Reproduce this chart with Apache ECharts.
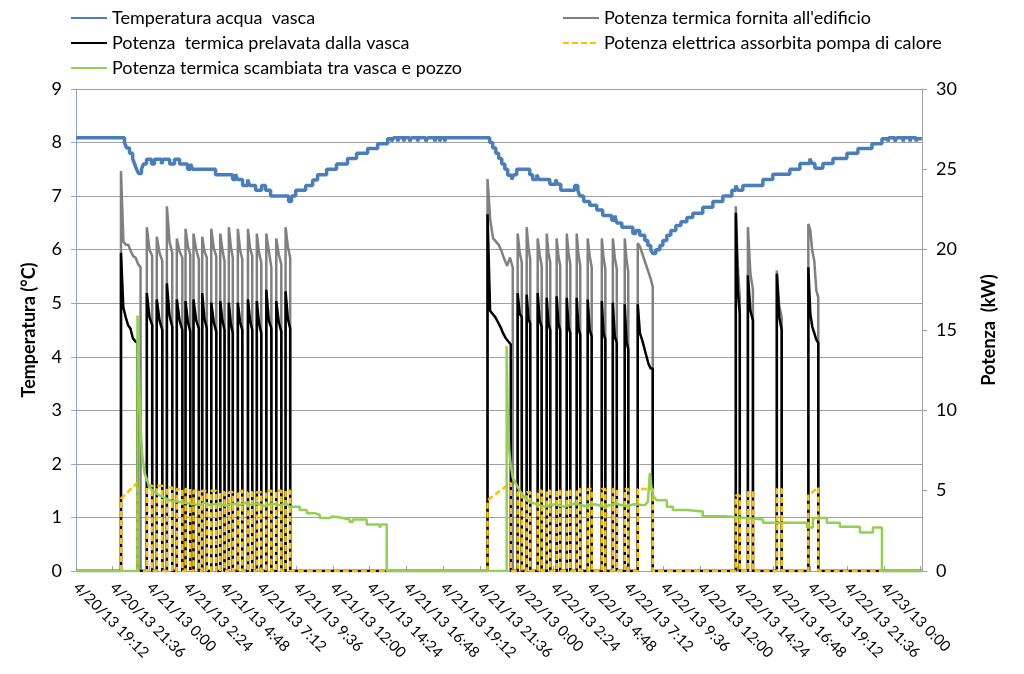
<!DOCTYPE html>
<html><head><meta charset="utf-8">
<script src="https://cdn.jsdelivr.net/npm/echarts/dist/echarts.min.js"></script>
<style>html,body{margin:0;padding:0;background:#fff}#c{width:1024px;height:674px}</style>
</head><body><div id="c"></div>
<script>
// x values are hours since 4/20/13 19:12
const xTickLabels = ['4/20/13 19:12','4/20/13 21:36','4/21/13 0:00','4/21/13 2:24','4/21/13 4:48','4/21/13 7:12','4/21/13 9:36','4/21/13 12:00','4/21/13 14:24','4/21/13 16:48','4/21/13 19:12','4/21/13 21:36','4/22/13 0:00','4/22/13 2:24','4/22/13 4:48','4/22/13 7:12','4/22/13 9:36','4/22/13 12:00','4/22/13 14:24','4/22/13 16:48','4/22/13 19:12','4/22/13 21:36','4/23/13 0:00'];
const xStepHours = 2.4;
const xEndHours = 55.3;

const seriesNames = ['Temperatura acqua  vasca', "Potenza termica fornita all'edificio", 'Potenza  termica prelavata dalla vasca', 'Potenza elettrica assorbita pompa di calore', 'Potenza termica scambiata tra vasca e pozzo'];

// Water temperature (°C): [hour, value] change points (held until next point)
const tempSteps = [[0,8.09],[3.17,8.0],[3.30,7.9],[3.50,7.8],[3.70,7.7],[3.83,7.6],[3.96,7.5],[4.09,7.42],[4.28,7.5],[4.41,7.6],[4.61,7.69],[4.94,7.6],[5.13,7.69],[5.59,7.6],[5.72,7.69],[6.12,7.6],[6.44,7.69],[6.77,7.6],[7.29,7.5],[7.49,7.6],[7.62,7.5],[9.12,7.4],[10.24,7.31],[10.43,7.41],[10.56,7.31],[10.89,7.2],[11.22,7.31],[11.35,7.2],[11.74,7.11],[12.13,7.2],[12.39,7.11],[12.72,7.0],[13.90,6.9],[14.09,7.0],[14.36,7.11],[15.01,7.2],[15.47,7.3],[15.79,7.4],[16.38,7.5],[17.03,7.6],[17.75,7.7],[18.34,7.8],[19.06,7.89],[19.72,7.98],[20.37,8.07],[20.63,8.02],[20.76,8.09],[21.03,8.02],[21.09,8.09],[21.42,8.02],[21.48,8.09],[21.81,8.02],[21.94,8.09],[22.33,8.02],[22.40,8.09],[22.86,8.02],[22.99,8.09],[23.45,8.02],[23.51,8.09],[23.77,8.02],[23.84,8.09],[24.10,8.02],[24.17,8.09],[27.04,8.0],[27.24,7.9],[27.44,7.8],[27.63,7.7],[27.83,7.6],[28.03,7.5],[28.22,7.39],[28.48,7.31],[28.61,7.4],[28.81,7.5],[29.66,7.4],[29.85,7.31],[30.12,7.4],[30.25,7.31],[30.97,7.22],[31.36,7.31],[31.49,7.22],[31.69,7.11],[32.60,7.2],[32.80,7.11],[32.93,7.0],[33.19,6.9],[33.58,6.83],[34.04,6.74],[34.43,6.64],[35.02,6.55],[35.22,6.64],[35.35,6.5],[35.68,6.42],[36.40,6.3],[36.59,6.36],[36.85,6.27],[37.18,6.17],[37.38,6.08],[37.57,6.0],[37.70,5.93],[37.90,6.0],[38.16,6.08],[38.36,6.17],[38.62,6.27],[38.88,6.36],[39.21,6.45],[39.54,6.52],[39.93,6.6],[40.32,6.68],[40.97,6.79],[41.63,6.9],[42.28,7.0],[42.87,7.11],[43.13,7.2],[43.26,7.11],[43.59,7.2],[44.90,7.31],[45.55,7.41],[46.66,7.5],[47.32,7.61],[47.97,7.7],[48.10,7.61],[48.30,7.52],[48.82,7.61],[49.48,7.7],[50.39,7.8],[51.11,7.89],[52.03,7.98],[52.68,8.07],[53.07,8.02],[53.14,8.09],[53.53,8.02],[53.66,8.09],[54.06,8.02],[54.12,8.09],[54.51,8.02],[54.58,8.09],[54.91,8.02],[54.97,8.07],[55.29,8.07]];

// Heat pump on/off cycles (hours)
const cycleOn  = [2.94,4.63,5.28,5.94,6.59,7.16,7.68,8.25,8.84,9.43,9.99,10.58,11.24,11.82,12.44,13.09,13.70,26.90,28.87,29.46,30.18,30.77,31.42,32.08,32.73,33.45,34.37,35.09,35.87,36.72,43.13,43.92,45.81,47.87];
const cycleOff = [4.02,4.98,5.64,6.29,6.95,7.47,8.03,8.55,9.17,9.71,10.25,10.87,11.52,12.11,12.77,13.42,14.00,28.42,29.14,29.69,30.44,31.00,31.65,32.31,32.96,33.71,34.60,35.35,36.10,37.70,43.39,44.25,46.13,48.52];
const grayOff  = [4.22,4.98,5.64,6.29,6.95,7.47,8.03,8.55,9.17,9.71,10.25,10.87,11.52,12.11,12.77,13.42,14.00,28.55,29.14,29.69,30.44,31.00,31.65,32.31,32.96,33.71,34.60,35.35,36.10,37.70,43.39,44.25,46.13,48.52];

// Thermal power to building (kW), readings spread over each cycle
const grayValues = [[24.9,20.5,20.3,20.3,19.9,19.6,19.5,19.1,18.9],[21.4,20.0,19.6],[20.8,19.8,19.3],[22.7,20.5,19.8],[20.7,19.9,19.5],[21.3,20.2,19.7],[21.0,20.0,19.4],[20.8,19.9,19.5],[21.3,20.1,19.6],[21.0,20.0,19.3],[21.4,20.2,19.5],[21.3,20.0,19.4],[21.3,20.1,19.6],[21.0,19.8,19.2],[21.0,19.9,18.9],[20.7,19.7,19.1],[21.4,20.2,19.5],[24.4,21.8,20.7,20.5,20.3,19.9,19.4,19.0,19.5,18.9],[21.0,19.8,19.2],[21.4,20.1,19.4],[20.7,19.7,19.0],[21.0,19.8,19.2],[20.7,19.6,19.0],[21.0,19.8,19.1],[21.0,19.7,19.0],[20.7,19.6,18.9],[20.7,19.5,18.8],[20.7,19.5,18.8],[20.7,19.4,18.6],[20.4,20.2,19.8,19.4,19.0,18.6,18.2,17.7],[22.7,19.0,17.0],[21.4,18.5,17.5],[18.7,16.5,15.8],[21.6,21.2,19.9,19.3,17.5,17.0]];

// Thermal power taken from the tank (kW)
const blackValues = [[19.8,16.4,15.8,15.3,15.1,14.5,14.3,14.2],[17.3,15.8,15.3],[16.9,15.6,15.0],[17.9,15.9,15.2],[16.9,15.6,15.0],[16.8,15.5,14.9],[16.9,15.6,15.1],[17.3,15.7,15.1],[16.7,15.5,14.9],[16.8,15.6,15.0],[16.7,15.4,14.8],[16.7,15.5,15.0],[16.9,15.6,15.0],[16.8,15.4,14.8],[17.5,15.6,15.1],[16.8,15.5,14.9],[17.4,15.7,15.1],[22.2,16.2,16.0,15.8,15.5,15.2,14.8,14.5,14.3,14.1],[17.3,16.0,15.8],[17.2,15.7,15.4],[17.3,15.6,15.2],[17.0,15.4,15.0],[17.1,15.4,15.0],[17.0,15.2,14.8],[17.0,15.1,14.7],[16.9,15.0,14.6],[16.8,14.8,14.4],[16.7,14.6,14.2],[16.6,14.3,13.8],[16.6,14.8,14.4,13.9,13.4,12.9,12.6,12.6],[22.3,17.5,16.0],[18.4,16.2,15.6],[18.5,15.8,15.0],[18.9,16.0,15.2,14.8,14.4,14.2]];

// Electric power of heat pump (kW): level at start and end of each cycle
const elecStart = [4.5,5.3,5.3,5.2,5.1,5.1,5.0,5.0,5.0,4.9,4.9,5.0,4.9,4.9,5.0,5.0,5.0,4.4,4.9,4.9,5.0,5.0,5.0,5.0,5.1,5.1,5.1,5.1,5.1,5.1,4.7,4.9,5.1,4.7];
const elecEnd   = [5.5,5.3,5.3,5.2,5.1,5.1,5.0,5.0,5.0,4.9,4.9,5.0,4.9,4.9,5.0,5.0,5.0,5.5,4.9,4.9,5.0,5.0,5.0,5.0,5.1,5.1,5.1,5.1,5.1,5.1,4.7,4.9,5.1,5.2];

// Heat exchanged between tank and well (kW): [hour, value]
const wellPower = [[0,0],[4.02,0],[4.02,15.9],[4.12,12.0],[4.22,9.0],[4.32,7.3],[4.48,6.1],[4.81,5.2],[5.13,4.9],[5.46,4.7],[6.12,4.4],[6.77,4.3],[7.42,4.2],[8.08,4.1],[8.40,4.25],[8.73,4.1],[9.38,4.2],[9.78,4.05],[10.17,4.2],[10.69,4.1],[11.09,4.25],[11.48,4.1],[11.87,4.2],[12.33,4.05],[12.79,4.2],[13.31,4.1],[13.77,4.2],[13.96,4.0],[14.62,4.0],[14.62,3.8],[15.08,3.8],[15.08,3.6],[15.60,3.6],[15.60,3.5],[15.93,3.5],[15.93,3.3],[16.58,3.3],[16.58,3.4],[16.78,3.4],[16.78,3.3],[17.43,3.3],[17.43,3.2],[17.89,3.2],[17.89,3.05],[18.09,3.05],[18.09,3.2],[19.0,3.2],[19.0,2.9],[19.85,2.9],[19.85,2.7],[19.98,2.7],[19.98,2.9],[20.31,2.9],[20.31,0],[28.15,0],[28.15,14.0],[28.22,10.0],[28.32,7.5],[28.42,6.6],[28.55,5.8],[29.0,5.0],[29.46,4.4],[30.12,4.15],[30.64,4.0],[31.29,4.15],[31.95,4.0],[32.60,4.2],[33.26,4.05],[33.91,4.15],[34.56,4.0],[35.22,4.2],[35.87,4.05],[36.53,4.15],[37.18,4.1],[37.38,4.3],[37.51,6.1],[37.64,5.0],[37.77,4.6],[37.97,4.4],[38.62,4.4],[38.62,4.0],[39.01,4.0],[39.01,3.8],[39.93,3.8],[39.93,3.7],[40.97,3.7],[40.97,3.4],[42.54,3.4],[42.54,3.3],[43.85,3.3],[43.85,3.2],[44.90,3.2],[44.90,3.0],[47.78,3.0],[47.78,2.7],[48.17,2.7],[48.17,3.3],[49.08,3.3],[49.08,3.0],[49.93,3.0],[49.93,2.75],[51.24,2.75],[51.24,2.4],[52.09,2.4],[52.09,2.7],[52.68,2.7],[52.68,0],[55.3,0]];

function pulses(on, off, vals) {
  const pts = [[0, 0]];
  for (let i = 0; i < on.length; i++) {
    const v = vals[i], n = v.length;
    pts.push([on[i], 0]);
    for (let j = 0; j < n; j++) pts.push([on[i] + (off[i] - on[i]) * j / (n - 1), v[j]]);
    pts.push([off[i], 0]);
  }
  pts.push([xEndHours, 0]);
  return pts;
}
const elecValues = elecStart.map((s, i) => [s, elecEnd[i]]);

const FONT = 'Lato';
const chart = echarts.init(document.getElementById('c'), null, {renderer: 'canvas'});
const colors = ['#4a7ebb', '#808080', '#000000', '#ffc000', '#92d050'];
function legendAt(name, left, top) {
  return {data: [name], left: left, top: top, padding: 0, itemWidth: 36, itemHeight: 14, itemGap: 5,
    itemStyle: {opacity: 0},
    textStyle: {fontFamily: FONT, fontSize: 18, color: '#000'}, selectedMode: false};
}
chart.setOption({
  animation: false,
  backgroundColor: '#fff',
  color: colors,
  textStyle: {fontFamily: FONT},
  legend: [
    legendAt(seriesNames[0], 70, 9),
    legendAt(seriesNames[1], 562, 9),
    legendAt(seriesNames[2], 70, 34),
    legendAt(seriesNames[3], 562, 34),
    legendAt(seriesNames[4], 70, 59)
  ],
  grid: {left: 76, right: 102, top: 89, bottom: 103},
  xAxis: {
    type: 'value', min: 0, max: xEndHours, interval: xStepHours,
    splitLine: {show: false},
    axisLine: {lineStyle: {color: '#a0a0a0', width: 1}},
    axisTick: {inside: true, length: 5, lineStyle: {color: '#a0a0a0'}},
    axisLabel: {rotate: -45, margin: 14, fontSize: 15, color: '#000', fontFamily: FONT,
      formatter: v => { const i = Math.round(v / xStepHours); return (Math.abs(i * xStepHours - v) < 0.01 && xTickLabels[i]) ? xTickLabels[i] : ''; }}
  },
  yAxis: [
    {type: 'value', min: 0, max: 9, interval: 1, name: 'Temperatura (°C)', nameLocation: 'middle', nameRotate: 90, nameGap: 38,
      nameTextStyle: {fontFamily: FONT, fontSize: 18, fontWeight: 'bold', color: '#000'},
      axisLine: {show: true, lineStyle: {color: '#8aa6d6', width: 1}},
      axisTick: {show: true, length: 5, lineStyle: {color: '#8aa6d6'}},
      axisLabel: {fontSize: 18, color: '#000', margin: 14, fontFamily: FONT},
      splitLine: {lineStyle: {color: '#a0a0a0', width: 1.2}}},
    {type: 'value', min: 0, max: 30, interval: 5, name: 'Potenza  (kW)', nameLocation: 'middle', nameRotate: 90, nameGap: 58,
      nameTextStyle: {fontFamily: FONT, fontSize: 18, fontWeight: 'bold', color: '#000'},
      axisLine: {show: true, lineStyle: {color: '#a0a0a0', width: 1}},
      axisTick: {show: true, length: 5, lineStyle: {color: '#a0a0a0'}},
      axisLabel: {fontSize: 18, color: '#000', margin: 14, fontFamily: FONT},
      splitLine: {show: false}}
  ],
  series: [
    {name: seriesNames[0], type: 'line', yAxisIndex: 0, step: 'end', data: tempSteps, symbol: 'none', showSymbol: false,
      lineStyle: {width: 3.5, color: colors[0]}, itemStyle: {color: colors[0]}},
    {name: seriesNames[1], type: 'line', yAxisIndex: 1, data: pulses(cycleOn, grayOff, grayValues), symbol: 'none', showSymbol: false,
      lineStyle: {width: 2.5, color: colors[1]}, itemStyle: {color: colors[1]}},
    {name: seriesNames[2], type: 'line', yAxisIndex: 1, data: pulses(cycleOn, cycleOff, blackValues), symbol: 'none', showSymbol: false,
      lineStyle: {width: 2.5, color: colors[2]}, itemStyle: {color: colors[2]}},
    {name: seriesNames[3], type: 'line', yAxisIndex: 1, data: pulses(cycleOn, cycleOff, elecValues), symbol: 'none', showSymbol: false,
      lineStyle: {width: 2.5, color: colors[3], type: [6, 3]}, itemStyle: {color: colors[3]}},
    {name: seriesNames[4], type: 'line', yAxisIndex: 1, data: wellPower, symbol: 'none', showSymbol: false,
      lineStyle: {width: 2.5, color: colors[4]}, itemStyle: {color: colors[4]}}
  ]
});
</script>
</body></html>
